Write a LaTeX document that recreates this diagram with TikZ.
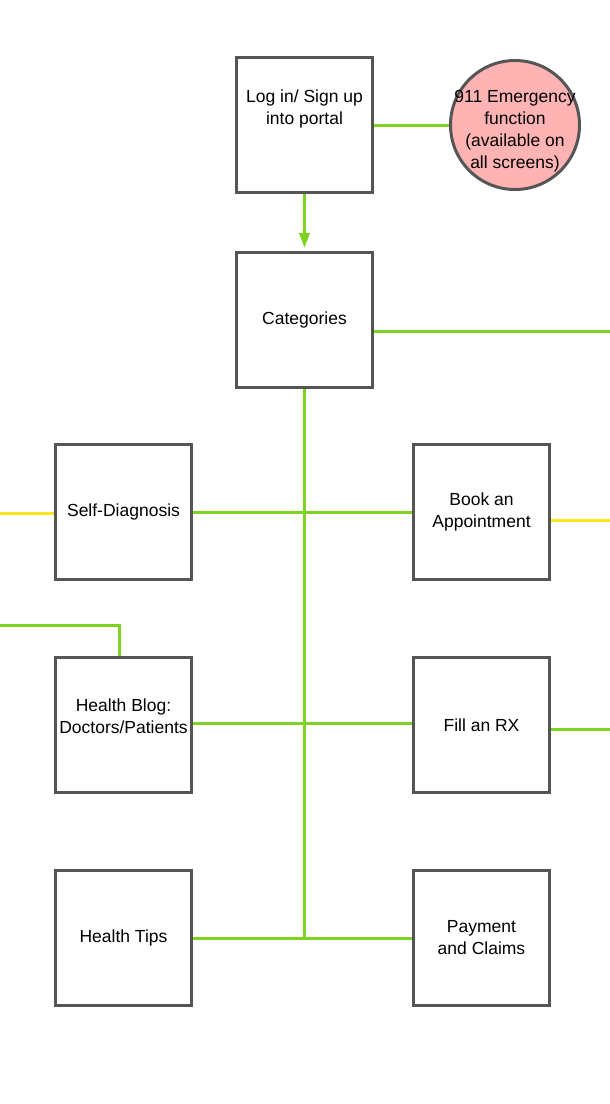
\documentclass[tikz,border=0pt]{standalone}
\usepackage{fontspec}
\setmainfont{Liberation Sans}
\usetikzlibrary{positioning,arrows.meta}
\definecolor{lgreen}{HTML}{7ED321}
\definecolor{lyellow}{HTML}{F8E71C}
\definecolor{bordergray}{HTML}{555555}
\definecolor{alertpink}{HTML}{FFB3B3}

\begin{document}
\begin{tikzpicture}[x=1pt,y=-1pt,
    box/.style = {draw=bordergray, line width=3pt, fill=white, minimum width=136pt, minimum height=135pt, align=center, inner sep=0pt, font=\fontsize{17.5}{22}\selectfont},
    sos/.style = {draw=bordergray, line width=3pt, fill=alertpink, circle, minimum size=129pt, inner sep=0pt},
    sostxt/.style = {align=center, inner sep=0pt, font=\fontsize{17.5}{22}\selectfont},
    link/.style = {draw=lgreen, line width=3pt},
    ylink/.style = {draw=lyellow, line width=3pt}]
    \useasboundingbox (0,0) rectangle (610,1104);
    \node[box, text depth=36pt] (login) at (304.5,125) {Log in/ Sign up\\into portal};
    \node[sos] (sos) [right=75pt of login] {};
    \node[sostxt] (sostext) at ([yshift=-6.5pt]sos.center) {911 Emergency\\function\\(available on\\all screens)};
    \node[box] (cat) [below=57pt of login] {Categories};
    \node[box] (selfdiag) at (123.5,512) {Self-Diagnosis};
    \node[box] (book) [right=219pt of selfdiag] {Book an\\Appointment};
    \node[box, text depth=18pt] (blog) [below=75pt of selfdiag] {Health Blog:\\Doctors/Patients};
    \node[box] (fillrx) [below=75pt of book] {Fill an RX};
    \node[box] (tips) [below=75pt of blog] {Health Tips};
    \node[box] (pay) [below=75pt of fillrx] {Payment\\and Claims};
    % loose ends off the page
    \coordinate (catout) at (610,331);
    \coordinate (diagin) at (0,513);
    \coordinate (bookout) at (610,520);
    \coordinate (rxout) at (610,729);
    \coordinate (blogin) at (0,625);
    \draw[link] (login) -- (sos);
    \draw[link, -{Triangle[width=10pt,length=15pt]}] (login.south) -- ([yshift=3pt]cat.north);
    \draw[link] (cat.east |- catout) -- (catout);
    \draw[link] (cat.south) -- (cat.south |- tips.east);
    \draw[link] (selfdiag) -- (book);
    \draw[link] (blog.east |- 0,723) -- (fillrx.west |- 0,723);
    \draw[link] (tips) -- (pay);
    \draw[ylink] (diagin) -- (selfdiag.west |- diagin);
    \draw[ylink] (book.east |- bookout) -- (bookout);
    \draw[link] (fillrx.east |- rxout) -- (rxout);
    \draw[link] (blogin) -| ([xshift=-4.5pt]blog.north);
\end{tikzpicture}
\end{document}
